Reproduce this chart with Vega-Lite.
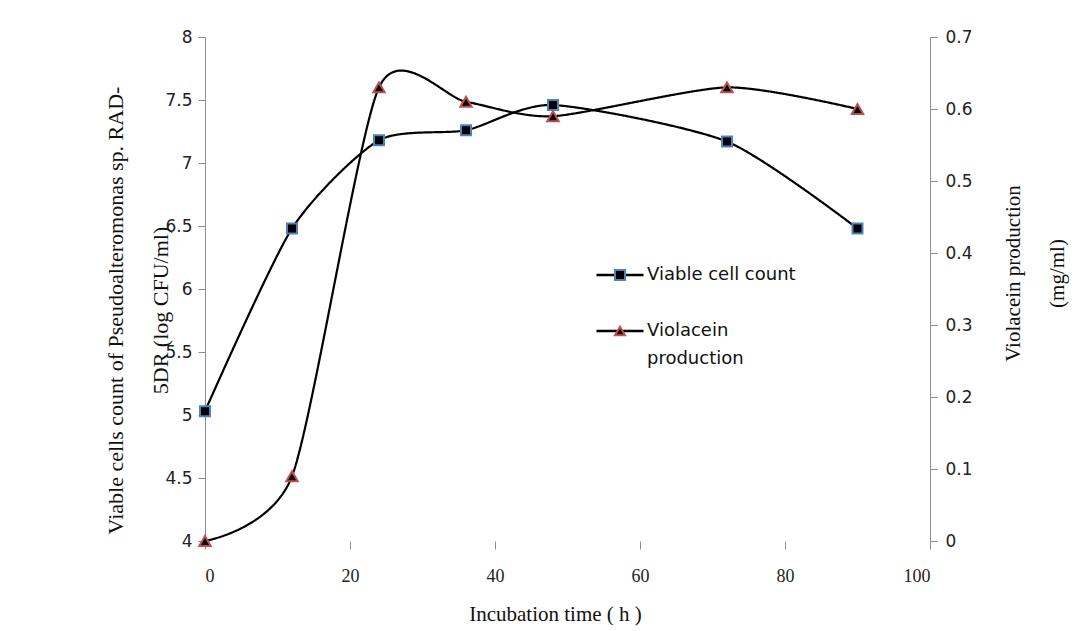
{
  "$schema": "https://vega.github.io/schema/vega-lite/v6.json",
  "autosize": "none",
  "width": 725,
  "height": 504,
  "padding": {"top": 37, "left": 205, "right": 156, "bottom": 90},
  "background": "white",
  "config": {
    "view": {"stroke": null},
    "style": {"guide-label": {"lineHeight": 28}},
    "axis": {"grid": false, "domainColor": "#8c8c8c", "tickColor": "#8c8c8c", "labelColor": "#222222", "titleColor": "#111111", "titleFontWeight": "normal"}
  },
  "data": {
    "values": [
      {"time": 0, "series": "Viable cell count", "group": "Viable cell count", "value": 5.03},
      {"time": 12, "series": "Viable cell count", "group": "Viable cell count", "value": 6.48},
      {"time": 24, "series": "Viable cell count", "group": "Viable cell count", "value": 7.18},
      {"time": 36, "series": "Viable cell count", "group": "Viable cell count", "value": 7.26},
      {"time": 48, "series": "Viable cell count", "group": "Viable cell count", "value": 7.46},
      {"time": 72, "series": "Viable cell count", "group": "Viable cell count", "value": 7.17},
      {"time": 90, "series": "Viable cell count", "group": "Viable cell count", "value": 6.48},
      {"time": 0, "series": "Violacein production", "group": "Violacein production", "value": 0.0},
      {"time": 12, "series": "Violacein production", "group": "Violacein production", "value": 0.09},
      {"time": 24, "series": "Violacein production", "group": "Violacein production", "value": 0.63},
      {"time": 36, "series": "Violacein production", "group": "Violacein production", "value": 0.61},
      {"time": 48, "series": "Violacein production", "group": "Violacein production", "value": 0.59},
      {"time": 72, "series": "Violacein production", "group": "Violacein production", "value": 0.63},
      {"time": 90, "series": "Violacein production", "group": "Violacein production", "value": 0.60}
    ]
  },
  "encoding": {
    "x": {
      "field": "time", "type": "quantitative",
      "scale": {"domain": [0, 100], "nice": false},
      "axis": {
        "values": [0, 20, 40, 60, 80, 100], "domain": false, "tickSize": 8, "tickOffset": 0,
        "labelFont": "Liberation Serif", "labelFontSize": 18, "labelPadding": 18,
        "title": "Incubation time ( h )", "titleFont": "Liberation Serif", "titleFontSize": 21,
        "titleX": 350, "titleY": 62, "titleAnchor": "middle"
      }
    }
  },
  "layer": [
    {
      "transform": [{"filter": "datum.series == 'Viable cell count'"}],
      "encoding": {
        "y": {
          "field": "value", "type": "quantitative",
          "scale": {"domain": [4, 8], "nice": false, "zero": false},
          "axis": {
            "orient": "left", "values": [4, 4.5, 5, 5.5, 6, 6.5, 7, 7.5, 8], "format": "~g",
            "tickSize": 7, "labelFont": "DejaVu Sans", "labelFontSize": 17, "labelPadding": 6,
            "title": ["Viable cells count of Pseudoalteromonas sp. RAD-", "5DR (log CFU/ml)"],
            "titleFont": "Liberation Serif", "titleFontSize": 22, "titleLineHeight": 45,
            "titleAngle": -90, "titleX": -90, "titleY": 273, "titleAlign": "center", "titleBaseline": "middle"
          }
        }
      },
      "layer": [
        {
          "mark": {"type": "line", "color": "black", "strokeWidth": 2.2, "interpolate": "cardinal", "tension": 0.3},
          "encoding": {
            "strokeDash": {
              "field": "group", "type": "nominal",
              "scale": {"range": [[1, 0], [1, 0]]},
              "legend": {
                "orient": "none", "legendX": 406, "legendY": 229, "title": null, "padding": 0,
                "symbolType": "M-4.7,0H4.7", "symbolSize": 100, "symbolStrokeColor": "black", "symbolStrokeWidth": 2.5,
                "symbolFillColor": "transparent",
                "labelOpacity": 0, "labelFont": "DejaVu Sans", "labelFontSize": 18, "labelOffset": 18, "rowPadding": 38,
                "labelExpr": "datum.label == 'Violacein production' ? ['Violacein', 'production'] : datum.label"
              }
            }
          }
        },
        {
          "mark": {"type": "point", "filled": true, "fill": "black", "strokeWidth": 2, "opacity": 1, "size": 100},
          "encoding": {
            "shape": {
              "field": "series", "type": "nominal",
              "scale": {"domain": ["Viable cell count", "Violacein production"], "range": ["square", "triangle-up"]},
              "legend": {
                "orient": "none", "legendX": 406, "legendY": 229, "title": null, "padding": 0,
                "symbolFillColor": "black", "symbolSize": 100, "symbolStrokeWidth": 2, "symbolOpacity": 1,
                "labelFont": "DejaVu Sans", "labelFontSize": 18, "labelColor": "#111111", "labelOffset": 18, "rowPadding": 38,
                "labelExpr": "datum.label == 'Violacein production' ? ['Violacein', 'production'] : datum.label"
              }
            },
            "stroke": {
              "field": "series", "type": "nominal",
              "scale": {"domain": ["Viable cell count", "Violacein production"], "range": ["#4F81BD", "#C0504D"]}
            }
          }
        }
      ]
    },
    {
      "transform": [{"filter": "datum.series == 'Violacein production'"}],
      "encoding": {
        "y": {
          "field": "value", "type": "quantitative",
          "scale": {"domain": [0, 0.7], "nice": false},
          "axis": {
            "orient": "right", "values": [0, 0.1, 0.2, 0.3, 0.4, 0.5, 0.6, 0.7], "format": "~g",
            "tickSize": 7, "labelFont": "DejaVu Sans", "labelFontSize": 17, "labelPadding": 8,
            "title": ["Violacein production", "(mg/ml)"],
            "titleFont": "Liberation Serif", "titleFontSize": 21, "titleLineHeight": 44,
            "titleAngle": -90, "titleX": 83, "titleY": 236, "titleAlign": "center", "titleBaseline": "middle"
          }
        }
      },
      "layer": [
        {
          "mark": {"type": "line", "color": "black", "strokeWidth": 2.2, "interpolate": "cardinal", "tension": 0.3},
          "encoding": {
            "strokeDash": {"field": "group", "type": "nominal"}
          }
        },
        {
          "mark": {"type": "point", "filled": true, "fill": "black", "strokeWidth": 2, "opacity": 1, "size": 130},
          "encoding": {
            "shape": {"field": "series", "type": "nominal"},
            "stroke": {"field": "series", "type": "nominal"}
          }
        }
      ]
    }
  ],
  "resolve": {"scale": {"y": "independent"}}
}
